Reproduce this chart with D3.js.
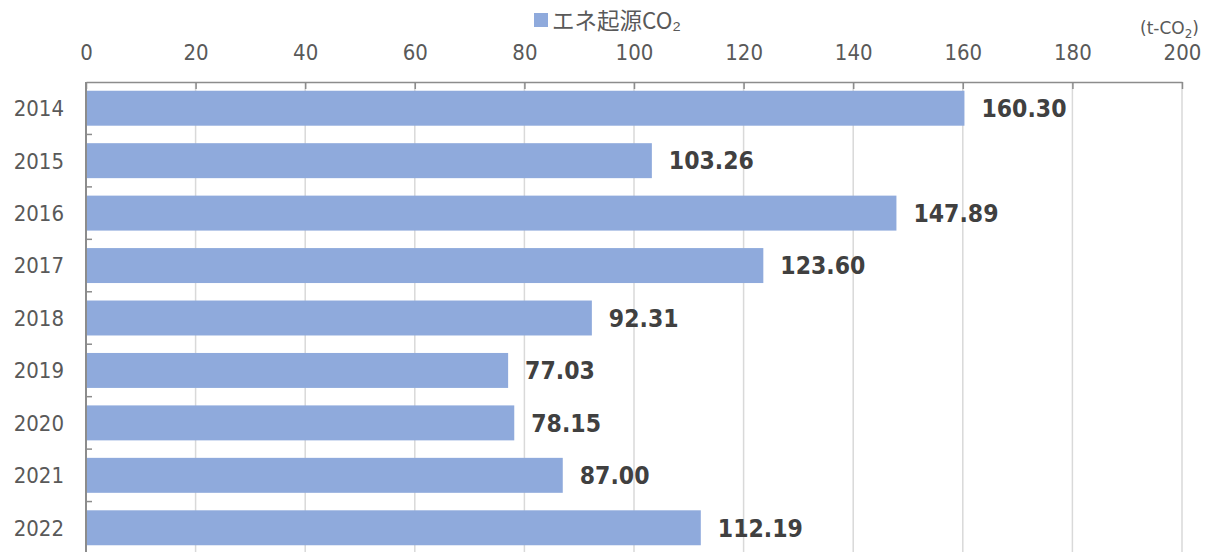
<!DOCTYPE html>
<html>
<head>
<meta charset="utf-8">
<script src="https://cdn.jsdelivr.net/npm/d3@7"></script>
<style>
  body { margin: 0; background: #fff; }
  text { font-family: "DejaVu Sans", Verdana, sans-serif; }
</style>
</head>
<body>
<svg id="chart"></svg>
<script>
// data
let years = ["2014", "2015", "2016", "2017", "2018", "2019", "2020", "2021", "2022"];
let co2Values = [160.30, 103.26, 147.89, 123.60, 92.31, 77.03, 78.15, 87.00, 112.19];
let xTicks = [0, 20, 40, 60, 80, 100, 120, 140, 160, 180, 200];
let seriesName = "エネ起源CO₂";

// svg spec
let width = 1210;
let height = 552;
let margin = {top: 82, right: 28, bottom: -2, left: 86};

let barColor = "#8FAADC";
let textColor = "#595959";
let squeeze = 0.9; // the reference font runs narrower than DejaVu

let svg = d3.select("#chart").attr("width", width).attr("height", height);

let xScale = d3.scaleLinear()
  .domain([0, 200])
  .range([margin.left, width - margin.right]);

let yScale = d3.scaleBand()
  .domain(years)
  .range([margin.top, height - margin.bottom])
  .paddingInner(1/3)
  .paddingOuter(1/6);

// gridlines
svg.append("g")
  .selectAll("line")
  .data(xTicks.slice(1))
  .join("line")
  .attr("x1", d => xScale(d))
  .attr("x2", d => xScale(d))
  .attr("y1", margin.top)
  .attr("y2", height)
  .attr("stroke", "#d9d9d9")
  .attr("stroke-width", 1.5);

// bars
svg.append("g")
  .selectAll("rect")
  .data(years)
  .join("rect")
  .attr("x", xScale(0))
  .attr("y", d => yScale(d))
  .attr("width", (d, i) => xScale(co2Values[i]) - xScale(0))
  .attr("height", yScale.bandwidth())
  .attr("fill", barColor);

// top axis
let xAxis = svg.append("g")
  .attr("transform", `translate(0, ${margin.top})`)
  .call(d3.axisTop(xScale).tickValues(xTicks).tickSizeInner(-7).tickSizeOuter(0).tickPadding(22));
xAxis.select(".domain").attr("stroke", "#8c8c8c").attr("stroke-width", 1.5);
xAxis.selectAll(".tick line").attr("stroke", "#8c8c8c").attr("stroke-width", 1.5);
xAxis.selectAll(".tick text")
  .attr("fill", textColor)
  .attr("transform", `scale(${squeeze},1)`)
  .style("font-size", "22px")
  .style("font-family", "'DejaVu Sans', Verdana, sans-serif");

// left axis line + boundary ticks
let leftAxis = svg.append("g");
leftAxis.append("line")
  .attr("x1", xScale(0)).attr("x2", xScale(0))
  .attr("y1", margin.top).attr("y2", height)
  .attr("stroke", "#8c8c8c").attr("stroke-width", 2);
leftAxis.selectAll(".bound")
  .data(years.slice(1))
  .join("line")
  .attr("class", "bound")
  .attr("x1", xScale(0)).attr("x2", xScale(0) + 6)
  .attr("y1", d => yScale(d) - yScale.step() * yScale.paddingInner() / 2)
  .attr("y2", d => yScale(d) - yScale.step() * yScale.paddingInner() / 2)
  .attr("stroke", "#8c8c8c").attr("stroke-width", 1.5);

// year labels
svg.append("g")
  .selectAll("text")
  .data(years)
  .join("text")
  .attr("transform", d => `translate(64, ${yScale(d) + yScale.bandwidth() / 2}) scale(${squeeze},1)`)
  .attr("dy", "0.36em")
  .attr("text-anchor", "end")
  .attr("fill", textColor)
  .style("font-size", "22px")
  .text(d => d);

// value labels
svg.append("g")
  .selectAll("text")
  .data(years)
  .join("text")
  .attr("transform", (d, i) => `translate(${xScale(co2Values[i]) + 17}, ${yScale(d) + yScale.bandwidth() / 2}) scale(${squeeze},1)`)
  .attr("dy", "0.36em")
  .attr("fill", "#404040")
  .style("font-size", "24.5px")
  .style("font-weight", "bold")
  .text((d, i) => co2Values[i].toFixed(2));

// legend
let legend = svg.append("g");
legend.append("rect")
  .attr("x", 534).attr("y", 13)
  .attr("width", 14).attr("height", 14)
  .attr("fill", barColor);
legend.append("text")
  .attr("x", 552).attr("y", 29)
  .attr("fill", textColor)
  .style("font-size", "22.5px")
  .style("font-family", "'Noto Sans CJK JP', sans-serif")
  .text(seriesName);

// unit
let unit = svg.append("text")
  .attr("x", 1199).attr("y", 34)
  .attr("text-anchor", "end")
  .attr("fill", textColor)
  .style("font-size", "17px");
unit.append("tspan").text("(t-CO");
unit.append("tspan").attr("dy", 4).style("font-size", "12px").text("2");
unit.append("tspan").attr("dy", -4).text(")");
</script>
</body>
</html>
